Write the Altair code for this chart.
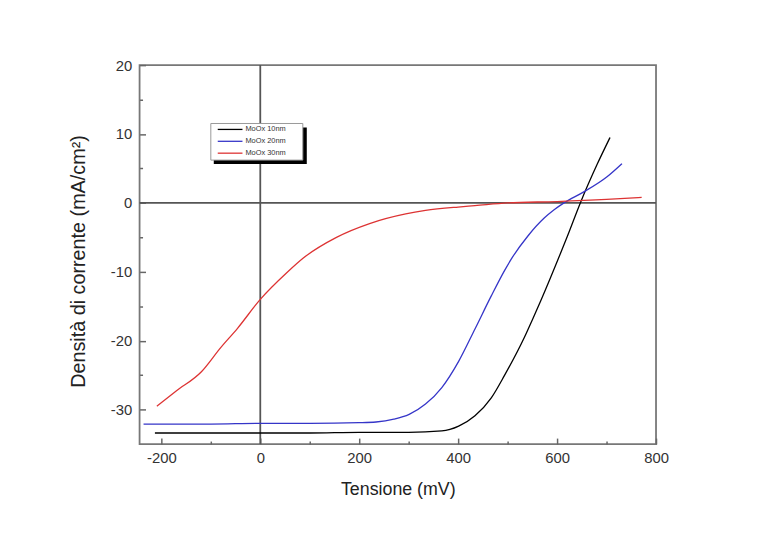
import altair as alt
import pandas as pd

# ---- data ----
names = ["MoOx 10nm", "MoOx 20nm", "MoOx 30nm"]
colors = ["#000000", "#3535c8", "#dd3333"]

x10 = [-213, -100, 0, 100, 200, 300, 367, 401, 434, 467, 494, 534, 551, 567, 607, 621, 647, 681, 707]
y10 = [-33.4, -33.4, -33.4, -33.4, -33.3, -33.3, -33.1, -32.4, -30.9, -28.3, -25.0, -19.5, -16.8, -14.2, -7.3, -4.8, 0.0, 5.6, 9.5]

x20 = [-236, -100, 0, 100, 200, 234, 270, 301, 334, 367, 401, 434, 467, 494, 507, 541, 574, 594, 614, 654, 701, 731]
y20 = [-32.1, -32.1, -32.0, -32.0, -31.9, -31.8, -31.4, -30.7, -29.2, -26.8, -23.0, -18.3, -13.5, -9.8, -8.2, -4.8, -2.2, -1.0, 0.0, 1.6, 3.8, 5.7]

x30 = [-209, -170, -119, -80, -46, 0, 54, 87, 154, 221, 294, 334, 400, 434, 500, 600, 700, 771]
y30 = [-29.5, -27.3, -24.5, -21.0, -18.2, -14.0, -10.1, -8.0, -5.0, -3.0, -1.6, -1.1, -0.6, -0.4, 0.0, 0.2, 0.5, 0.8]

x_major = [-200, 0, 200, 400, 600, 800]
x_minor = [-100, 100, 300, 500, 700]
y_major = [-30, -20, -10, 0, 10, 20]
y_minor = [-25, -15, -5, 5, 15]
x_domain = [-244, 800]
y_domain = [-35, 20]
zero_x = [0]
zero_y = [0]

rows = []
for n, xs, ys in zip(names, [x10, x20, x30], [y10, y20, y30]):
    for i, (a, b) in enumerate(zip(xs, ys)):
        rows.append({"serie": n, "V": a, "J": b, "o": i})
df = pd.DataFrame(rows)

FONT = "Liberation Sans"
xs_ = alt.Scale(domain=x_domain, nice=False, zero=False)
ys_ = alt.Scale(domain=y_domain, nice=False, zero=False)

major_x = alt.Axis(orient="bottom", values=x_major, tickSize=6, offset=-6, domain=False, grid=False,
                   labelPadding=7, title="Tensione (mV)", titlePadding=15,
                   labelFontSize=15, labelFont=FONT, labelColor="#333",
                   titleFontSize=18, titleFont=FONT, titleFontWeight="normal", titleColor="#222",
                   tickColor="#666", tickWidth=1.5, labelFlush=False,
                   labelExpr="'' + datum.value")
major_y = alt.Axis(orient="left", values=y_major, tickSize=6, offset=-6, domain=False, grid=False,
                   labelPadding=8, title="Densità di corrente (mA/cm²)", titlePadding=22,
                   titleY=198,
                   labelFontSize=15, labelFont=FONT, labelColor="#333",
                   titleFontSize=20, titleFont=FONT, titleFontWeight="normal", titleColor="#222",
                   tickColor="#666", tickWidth=1.5, labelFlush=False,
                   labelExpr="'' + datum.value")
minor_x = alt.Axis(orient="bottom", values=x_minor, tickSize=3, offset=-3, domain=False, grid=False,
                   labels=False, title=None, tickColor="#666", tickWidth=1.5)
minor_y = alt.Axis(orient="left", values=y_minor, tickSize=3, offset=-3, domain=False, grid=False,
                   labels=False, title=None, tickColor="#666", tickWidth=1.5)

lines = alt.Chart(df).mark_line(strokeWidth=1.3, interpolate="monotone").encode(
    x=alt.X("V:Q", scale=xs_, axis=major_x),
    y=alt.Y("J:Q", scale=ys_, axis=major_y),
    color=alt.Color("serie:N", scale=alt.Scale(domain=names, range=colors), legend=None),
    order="o:Q",
)

minor = alt.Chart(df).mark_point(opacity=0).encode(
    x=alt.X("V:Q", scale=xs_, axis=minor_x),
    y=alt.Y("J:Q", scale=ys_, axis=minor_y),
)

hrule = alt.Chart(pd.DataFrame({"J": zero_y})).mark_rule(color="#555", strokeWidth=1.8).encode(
    y=alt.Y("J:Q", scale=ys_, axis=None))
vrule = alt.Chart(pd.DataFrame({"V": zero_x})).mark_rule(color="#555", strokeWidth=1.8).encode(
    x=alt.X("V:Q", scale=xs_, axis=None))

one = pd.DataFrame({"a": [0]})
shadow = alt.Chart(one).mark_rect(color="#000").encode(
    x=alt.value(75), x2=alt.value(169), y=alt.value(63), y2=alt.value(100))
box = alt.Chart(one).mark_rect(fill="#ffffff", stroke="#999", strokeWidth=1).encode(
    x=alt.value(72), x2=alt.value(165), y=alt.value(59), y2=alt.value(96))

legend_layers = [shadow, box]
row_y = [65, 77, 89]
for n, c, yy in zip(names, colors, row_y):
    legend_layers.append(alt.Chart(one).mark_rule(color=c, strokeWidth=1.3).encode(
        x=alt.value(79), x2=alt.value(104), y=alt.value(yy)))
    legend_layers.append(alt.Chart(one).mark_text(align="left", baseline="middle", fontSize=7.5,
                                                  font=FONT, color="#333").encode(
        x=alt.value(107), y=alt.value(yy), text=alt.value(n)))

chart = alt.layer(hrule, vrule, minor, lines, *legend_layers).resolve_axis(
    x="independent", y="independent"
).properties(
    width=522, height=383,
    autosize=alt.AutoSizeParams(type="none"),
    padding={"left": 133, "top": 55, "right": 95, "bottom": 70},
    background="#ffffff",
).configure_view(stroke="#777", strokeWidth=1.8)

chart.save("out.html", embed_options={"renderer": "svg", "actions": False})
